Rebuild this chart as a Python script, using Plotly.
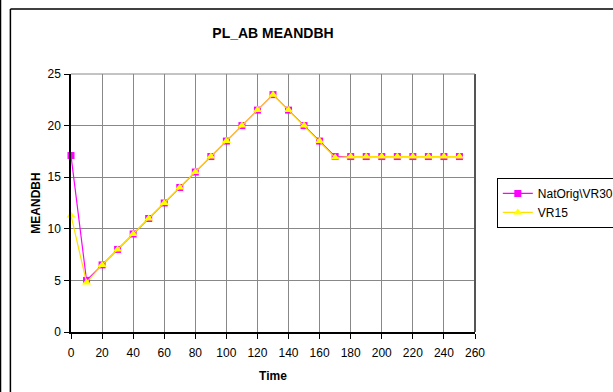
import plotly.graph_objects as go

time = [0, 10, 20, 30, 40, 50, 60, 70, 80, 90, 100, 110, 120, 130, 140, 150, 160,
        170, 180, 190, 200, 210, 220, 230, 240, 250]
nat_orig = [17.1, 5.0, 6.5, 8.0, 9.5, 11.0, 12.5, 14.0, 15.5, 17.0, 18.5, 20.0, 21.5, 23.0,
            21.5, 20.0, 18.5, 17.0, 17.0, 17.0, 17.0, 17.0, 17.0, 17.0, 17.0, 17.0]
vr15 = [11.3, 4.8, 6.5, 8.0, 9.5, 11.0, 12.5, 14.0, 15.5, 17.0, 18.5, 20.0, 21.5, 23.0,
        21.5, 20.0, 18.5, 16.9, 17.0, 17.0, 17.0, 17.0, 17.0, 17.0, 17.0, 17.0]
x_ticks = list(range(0, 261, 20))
y_ticks = [0, 5, 10, 15, 20, 25]

FONT = "Liberation Sans, Arial, sans-serif"

fig = go.Figure()
fig.add_trace(go.Scatter(
    x=time, y=nat_orig, name="NatOrig\\VR30", mode="lines+markers",
    line=dict(color="#FF00FF", width=1.2),
    marker=dict(symbol="square", size=7, color="#FF00FF"),
    cliponaxis=False,
))
fig.add_trace(go.Scatter(
    x=time, y=vr15, name="VR15", mode="lines+markers",
    line=dict(color="#FFE000", width=1.2),
    marker=dict(symbol="triangle-up", size=8, color="#FFFF00"),
    cliponaxis=False,
))

axis_common = dict(
    showgrid=True, gridcolor="#888888", gridwidth=1,
    showline=True, linecolor="black", linewidth=1.5,
    ticks="outside", ticklen=5, tickcolor="black",
    tickfont=dict(family=FONT, size=12, color="black"),
    zeroline=False, fixedrange=True,
)

fig.update_xaxes(range=[0, 260], tickvals=x_ticks, ticklabelstandoff=4,
                 title=dict(text="<b>Time</b>", font=dict(family=FONT, size=12, color="black"), standoff=12),
                 **axis_common)
fig.update_yaxes(range=[0, 25], tickvals=y_ticks, ticklabelstandoff=1,
                 title=dict(text="<b>MEANDBH</b>", font=dict(family=FONT, size=12, color="black"), standoff=4),
                 **axis_common)

shapes = [
    # right border of plot area
    dict(type="line", xref="paper", yref="paper", x0=1, x1=1, y0=0, y1=1,
         line=dict(color="#555555", width=2)),
    # top border of plot area
    dict(type="line", xref="paper", yref="paper", x0=0, x1=1, y0=1, y1=1,
         line=dict(color="#888888", width=1)),
    # chart area border
    dict(type="line", xref="paper", yref="paper", x0=-0.150, x1=-0.150, y0=-0.5, y1=1.252,
         line=dict(color="black", width=1.5)),
    dict(type="line", xref="paper", yref="paper", x0=-0.150, x1=1.6, y0=1.252, y1=1.252,
         line=dict(color="black", width=1.5)),
    # outer left edge line
    dict(type="line", xref="paper", yref="paper", x0=-0.1745, x1=-0.1745, y0=-0.5, y1=1.5,
         line=dict(color="black", width=1.5)),
]

fig.update_layout(
    width=613, height=392,
    margin=dict(l=71, r=138, t=74, b=60, autoexpand=False),
    paper_bgcolor="white", plot_bgcolor="white",
    title=dict(text="<b>PL_AB MEANDBH</b>", x=0.5, xref="paper", y=1 - 33 / 392, yanchor="middle",
               font=dict(family=FONT, size=14, color="black")),
    legend=dict(x=1.054, y=0.597, xanchor="left", yanchor="top",
                bgcolor="white", bordercolor="black", borderwidth=1,
                font=dict(family=FONT, size=12, color="black"),
                itemwidth=30, tracegroupgap=0),
    shapes=shapes,
    showlegend=True,
)

fig.write_html("out.html", config={"displayModeBar": False},
               post_script="document.body.style.margin='0';")
